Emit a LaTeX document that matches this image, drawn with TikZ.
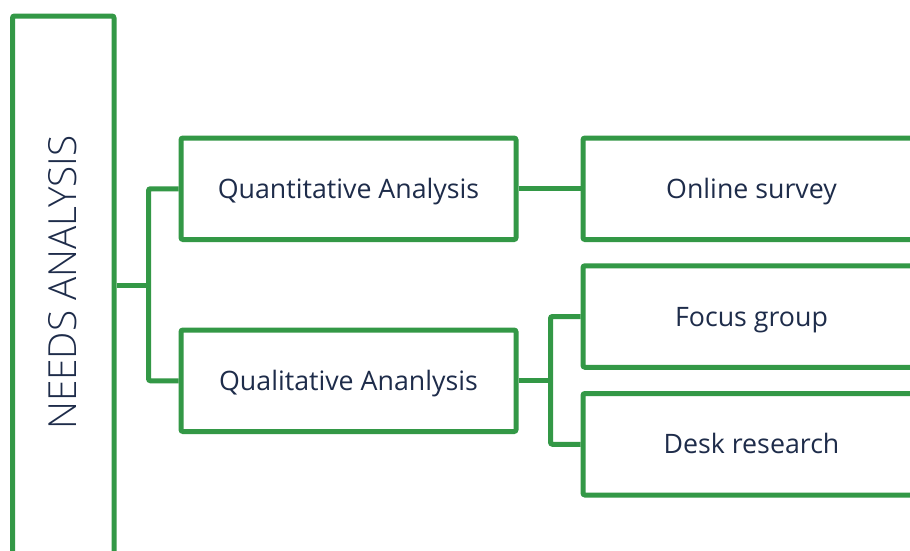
\documentclass[tikz,border=0pt]{standalone}
\usepackage{fontspec}
\setmainfont{Open Sans}
\newfontfamily\lightfont{Open Sans Light}
\definecolor{grn}{RGB}{51,152,70}
\definecolor{ink}{RGB}{30,44,74}
\begin{document}
\begin{tikzpicture}[x=1pt,y=-1pt,
  box/.style={draw=grn, line width=5pt, rounded corners=2pt, fill=white, text=ink, font=\fontsize{26.75}{31}\selectfont, inner sep=0pt, text height=19.1pt, text depth=0pt, minimum width=335pt, minimum height=101.5pt},
  rbox/.style={box, minimum width=337pt, minimum height=101.5pt},
  conn/.style={draw=grn, line width=5pt, rounded corners=2pt}]
\clip (0,0) rectangle (910,550);
\fill[white] (0,0) rectangle (910,550);
\node[draw=grn, line width=5pt, rounded corners=2pt, minimum width=101.5pt, minimum height=540pt, inner sep=0pt] (main) at (63.25,286) {};
\node[text=ink, rotate=90, font=\lightfont\fontsize{38.7}{44}\selectfont] (mainlbl) at (63,282.5) {NEEDS ANALYSIS};
\node[box] (quant) at (348.5,188.75) {Quantitative Analysis};
\node[box] (qual) at (348.5,380.75) {Qualitative Ananlysis};
\node[rbox] (online) at (751.5,188.75) {Online survey};
\node[rbox] (focus) at (751.5,316.5) {Focus group};
\node[rbox] (desk) at (751.5,444.25) {Desk research};
\coordinate (j1) at (148.5,285);
\coordinate (j2) at (550.5,380.75);
\draw[conn] (main.east |- j1) -- (j1);
\draw[conn] (quant.west) -| (j1) |- (qual.west);
\draw[conn] (quant.east) -- (online.west);
\draw[conn] (qual.east) -- (j2);
\draw[conn] (focus.west) -| (j2) |- (desk.west);
\end{tikzpicture}
\end{document}
